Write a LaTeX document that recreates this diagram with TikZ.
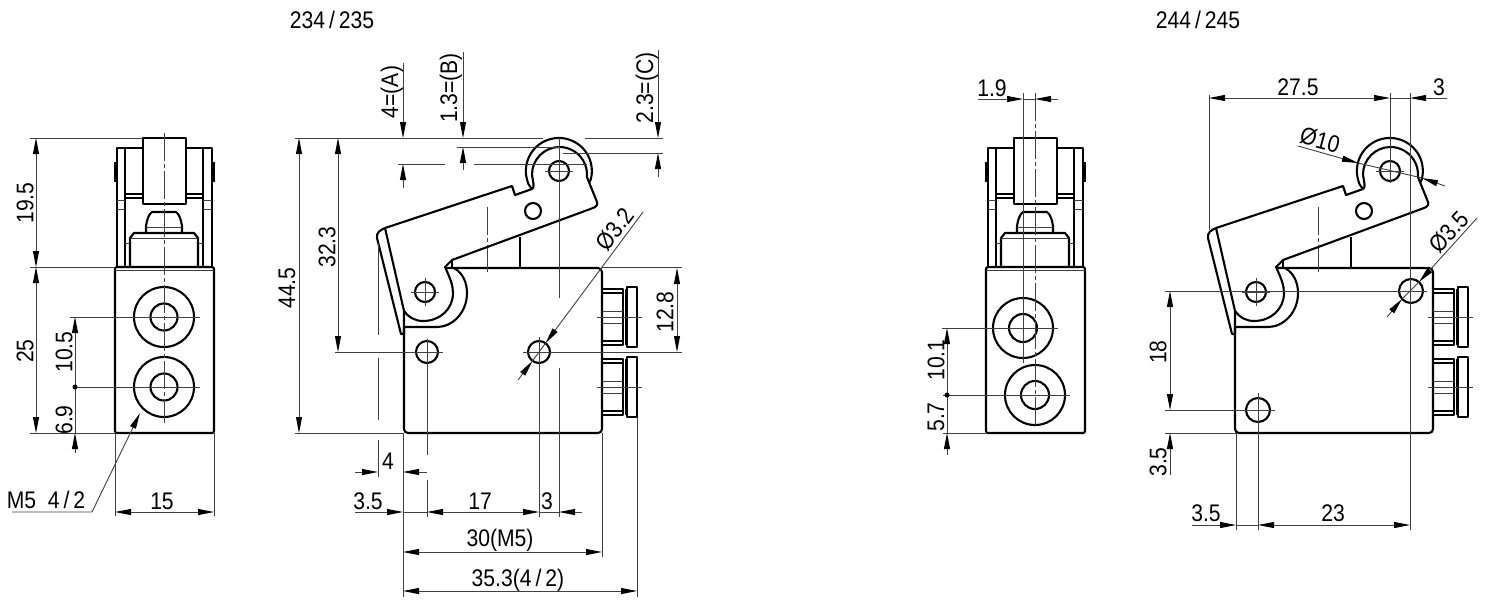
\documentclass[tikz,border=0pt]{standalone}
\usepackage{fontspec}
\setmainfont[FakeStretch=0.88]{Liberation Sans}
\usetikzlibrary{arrows.meta}
\tikzset{
  outline/.style={line width=1.05pt, line join=round},
  thinline/.style={line width=0.45pt, black!75},
  centerline/.style={thinline, dash pattern=on 14pt off 1.5pt on 2pt off 1.5pt},
  dimline/.style={thinline, >={Triangle[length=8pt,width=3pt,black]}},
  dimtext/.style={inner sep=0pt, font=\fontsize{12}{14}\selectfont},
  frontview/.pic={
    % body %
    \draw[outline, rounded corners=1] (115,-267) rectangle (214,-433);
    \draw[thinline] (115,-270) -- (214,-270);
    % arms %
    \draw[outline] (117,-267) -- (117,-148) -- (143,-148);
    \draw[outline] (212,-267) -- (212,-148) -- (186,-148);
    \draw[outline] (125,-267) -- (125,-148);
    \draw[outline] (203,-267) -- (203,-148);
    \draw[outline] (125,-194) -- (143,-194);
    \draw[outline] (125,-198) -- (143,-198);
    \draw[outline] (186,-194) -- (203,-194);
    \draw[outline] (186,-198) -- (203,-198);
    \draw[thinline] (117,-200) -- (125,-200);
    \draw[thinline] (117,-209) -- (125,-209);
    \draw[thinline] (203,-200) -- (212,-200);
    \draw[thinline] (203,-209) -- (212,-209);
    \draw[outline] (115.5,-162) -- (115.5,-182);
    \draw[outline] (213.5,-162) -- (213.5,-182);
    % roller, plunger, stem %
    \draw[outline] (143,-138) rectangle (186,-204);
    \draw[outline] (146,-233) -- (146,-226) .. controls (147,-219) and (149,-214) .. (152,-212) -- (176,-212) .. controls (179,-214) and (181,-219) .. (182,-226) -- (182,-233);
    \draw[thinline] (146,-227) -- (182,-227);
    \draw[outline] (130,-267) -- (130,-238) -- (134,-233) -- (194,-233) -- (198,-238) -- (198,-267);
    \draw[thinline] (130,-238) -- (198,-238);
    \draw[thinline] (125,-243) -- (130,-243);
    \draw[thinline] (198,-243) -- (203,-243);
  },
  sideview/.pic={
    % body %
    \draw[outline, rounded corners=2] (404,-327) -- (404,-433) -- (602,-433) -- (602,-268) -- (445,-268);
    \draw[outline] (520,-237) -- (520,-268);
    \draw[centerline] (487,-207) -- (487,-272);
    % fittings %
    \foreach \fy in {317,387} {
      \draw[outline] (602,-\fy+28) rectangle (623,-\fy-28);
      \draw[outline] (626,-\fy+28) -- (626,-\fy-28);
      \draw[outline] (627,-\fy+30) rectangle (637,-\fy-30);
      \draw[outline] (602,-\fy+24) -- (623,-\fy+24);
      \draw[outline] (602,-\fy-24) -- (623,-\fy-24);
      \draw[thinline] (602,-\fy+6) -- (623,-\fy+6);
      \draw[thinline] (602,-\fy-6) -- (623,-\fy-6);
      \draw[thinline] (597,-\fy) -- (642,-\fy);
    }
    % lever %
    \draw[outline] (532,-189) .. controls (529,-185) and (527,-183) .. (527,-179.5) arc[start angle=195, end angle=-15, radius=33] -- (589,-183);
    \draw[outline] (385,-228) -- (512,-186) -- (515,-195) -- (532,-189) .. controls (535,-188) and (533,-182) .. (532,-174.5) arc[start angle=180, end angle=-5, radius=27.5] -- (597,-202) .. controls (598,-205) and (596,-207) .. (593,-208) -- (452,-260) -- (445,-267) .. controls (450,-278) and (453,-285) .. (453,-293) .. controls (453,-309) and (440,-321) .. (423,-321) .. controls (415,-321) and (408,-317) .. (404,-311);
    \draw[outline] (452,-260) -- (452,-268);
    \draw[outline] (454,-268) .. controls (463,-273) and (467,-283) .. (467,-293) .. controls (467,-313) and (452,-327) .. (437,-327) -- (404,-327);
    \draw[outline] (385,-228) .. controls (380,-230) and (376,-233) .. (377,-238) -- (401,-334) -- (404,-334) -- (404,-311) -- (385,-228);
    \draw[outline] (559,-171) circle (10);
    \draw[outline] (425,-292) circle (10);
    \draw[outline] (533,-211) circle (8);
    \draw[thinline] (545,-171) -- (573,-171);
    \draw[thinline] (411,-292) -- (439,-292);
    \draw[thinline] (425,-278) -- (425,-306);
  },
}
\begin{document}
\begin{tikzpicture}[x=0.5pt, y=0.5pt]
  \useasboundingbox (0,-612) rectangle (1489,0);

  % views %
  \pic at (0,0) {frontview};
  \pic at (871,0) {frontview};
  \pic at (0,0) {sideview};
  \pic at (831,0) {sideview};

  % left front view %
  \foreach \py in {317,387} {
    \draw[outline] (164,-\py) circle (30);
    \draw[outline] (164,-\py) circle (13.5);
  }
  \draw[centerline] (164,-133) -- (164,-423);
  \draw[thinline] (70,-317) -- (200,-317);
  \draw[thinline] (75,-387) -- (200,-387);
  \draw[thinline] (30,-138) -- (143,-138);
  \draw[thinline] (30,-267) -- (115,-267);
  \draw[thinline] (30,-433) -- (115,-433);
  \draw[thinline] (115,-433) -- (115,-516);
  \draw[thinline] (214,-433) -- (214,-516);
  \draw[dimline,<->] (36,-138) -- (36,-267);
  \draw[dimline,<->] (36,-267) -- (36,-433);
  \draw[dimline,->] (75,-387) -- (75,-317);
  \draw[dimline,->] (75,-453) -- (75,-433);
  \draw[thinline] (75,-433) -- (75,-387);
  \fill (75,-387) circle (2.5);
  \draw[dimline,<->] (115,-512) -- (214,-512);
  \draw[dimline,->] (12,-512) -- (92,-512) -- (140,-413);
  \node[dimtext, rotate=90] (a195) at (25,-203) {19.5};
  \node[dimtext, rotate=90] (a25) at (25,-351) {25};
  \node[dimtext, rotate=90] (a105) at (64,-352) {10.5};
  \node[dimtext, rotate=90] (a69) at (64,-420) {6.9};
  \node[dimtext] (a15) at (162,-501) {15};
  \node[dimtext] (am5) at (46,-500) {M5\ \ 4\,/\,2};

  % left side view %
  \node[dimtext] (title1) at (332,-20) {234\,/\,235};
  \draw[outline] (427,-352) circle (11);
  \draw[outline] (539,-352) circle (11);
  \draw[thinline] (295,-138) -- (543,-138);
  \draw[thinline] (585,-138) -- (663,-138);
  \draw[thinline] (457,-147) -- (560,-147);
  \draw[thinline] (563,-153) -- (663,-153);
  \draw[thinline] (398,-164) -- (445,-164);
  \draw[thinline] (474,-164) -- (587,-164);
  \draw[thinline] (559,-138) -- (559,-298);
  \draw[thinline] (295,-433) -- (404,-433);
  \draw[thinline] (602,-267) -- (682,-267);
  \draw[thinline] (335,-352) -- (443,-352);
  \draw[thinline] (523,-352) -- (682,-352);
  \draw[thinline] (378,-243) -- (378,-335);
  \draw[thinline] (378,-358) -- (378,-420);
  \draw[thinline] (378,-440) -- (378,-477);
  \draw[thinline] (427,-339) -- (427,-455);
  \draw[thinline] (427,-480) -- (427,-517);
  \draw[thinline] (539,-337) -- (539,-517);
  \draw[thinline] (559,-368) -- (559,-517);
  \draw[thinline] (403,-433) -- (403,-597);
  \draw[thinline] (602,-433) -- (602,-557);
  \draw[thinline] (637,-417) -- (637,-597);
  \draw[dimline,->] (403,-63) -- (403,-138);
  \draw[dimline,->] (403,-188) -- (403,-164);
  \draw[dimline,->] (463,-52) -- (463,-138);
  \draw[dimline,->] (463,-170) -- (463,-147);
  \draw[dimline,->] (658,-50) -- (658,-138);
  \draw[dimline,->] (658,-177) -- (658,-153);
  \draw[dimline,<->] (299,-138) -- (299,-433);
  \draw[dimline,<->] (338,-138) -- (338,-352);
  \draw[dimline,<->] (677,-268) -- (677,-352);
  \draw[dimline,->] (355,-472) -- (378,-472);
  \draw[dimline,->] (427,-472) -- (403,-472);
  \draw[dimline,->] (355,-512) -- (403,-512);
  \draw[dimline,<->] (427,-512) -- (539,-512);
  \draw[thinline] (403,-512) -- (427,-512);
  \draw[thinline] (539,-512) -- (559,-512);
  \draw[dimline,->] (582,-512) -- (559,-512);
  \draw[dimline,<->] (403,-552) -- (602,-552);
  \draw[dimline,<->] (403,-591) -- (637,-591);
  \draw[dimline,->] (643,-212) -- (545.6,-343);
  \draw[dimline,->] (518,-380) -- (532.4,-361);
  \draw[thinline] (532.4,-361) -- (545.6,-343);
  \node[dimtext, rotate=90] (b4) at (392,-92) {4=(A)};
  \node[dimtext, rotate=90] (b13) at (451,-88) {1.3=(B)};
  \node[dimtext, rotate=90] (b23) at (647,-88) {2.3=(C)};
  \node[dimtext, rotate=90] (b445) at (287,-288) {44.5};
  \node[dimtext, rotate=90] (b323) at (327,-247) {32.3};
  \node[dimtext, rotate=90] (b128) at (665,-312) {12.8};
  \node[dimtext] (bf4) at (388,-461) {4};
  \node[dimtext] (b35) at (368,-501) {3.5};
  \node[dimtext] (b17) at (480,-501) {17};
  \node[dimtext] (b3) at (547,-501) {3};
  \node[dimtext] (b30) at (500,-540) {30(M5)};
  \node[dimtext] (b353) at (518,-580) {35.3(4\,/\,2)};
  \node[dimtext, rotate=53] (bd32) at (615,-229) {Ø3.2};

  % right front view %
  \draw[outline] (1023,-328) circle (30);
  \draw[outline] (1023,-328) circle (14);
  \draw[outline] (1035,-395) circle (30);
  \draw[outline] (1035,-395) circle (14);
  \draw[centerline] (1035,-93) -- (1035,-428);
  \draw[thinline] (1023,-93) -- (1023,-363);
  \draw[thinline] (942,-328) -- (1058,-328);
  \draw[thinline] (943,-395) -- (1070,-395);
  \draw[thinline] (943,-433) -- (986,-433);
  \draw[dimline,->] (978,-99) -- (1023,-99);
  \draw[dimline,->] (1058,-99) -- (1035,-99);
  \draw[thinline] (1023,-99) -- (1035,-99);
  \draw[dimline,->] (947,-395) -- (947,-328);
  \draw[dimline,->] (947,-455) -- (947,-433);
  \draw[thinline] (947,-433) -- (947,-395);
  \fill (947,-395) circle (2.5);
  \node[dimtext] (c19) at (992,-88) {1.9};
  \node[dimtext, rotate=90] (c101) at (936,-360) {10.1};
  \node[dimtext, rotate=90] (c57) at (936,-417) {5.7};

  % right side view %
  \node[dimtext] (title2) at (1198,-20) {244\,/\,245};
  \draw[outline] (1258,-410) circle (12);
  \draw[outline] (1411,-291) circle (12);
  \draw[thinline] (1165,-291) -- (1427,-291);
  \draw[thinline] (1165,-410) -- (1275,-410);
  \draw[thinline] (1165,-433) -- (1236,-433);
  \draw[thinline] (1209,-95) -- (1209,-230);
  \draw[thinline] (1390,-93) -- (1390,-183);
  \draw[thinline] (1410,-93) -- (1410,-530);
  \draw[thinline] (1236,-433) -- (1236,-530);
  \draw[thinline] (1258,-393) -- (1258,-530);
  \draw[dimline,<->] (1209,-98) -- (1390,-98);
  \draw[dimline,->] (1447,-98) -- (1410,-98);
  \draw[thinline] (1390,-98) -- (1410,-98);
  \draw[dimline,->] (1298,-146) -- (1358,-163);
  \draw[dimline,->] (1445,-186) -- (1422,-178);
  \draw[thinline] (1358,-163) -- (1422,-178);
  \draw[dimline,->] (1477,-218) -- (1419,-282);
  \draw[dimline,->] (1387,-317) -- (1402,-299);
  \draw[thinline] (1402,-299) -- (1419,-282);
  \draw[dimline,<->] (1170,-291) -- (1170,-410);
  \draw[dimline,->] (1170,-475) -- (1170,-433);
  \draw[dimline,->] (1192,-525) -- (1236,-525);
  \draw[thinline] (1236,-525) -- (1258,-525);
  \draw[dimline,<->] (1258,-525) -- (1410,-525);
  \node[dimtext] (d275) at (1298,-87) {27.5};
  \node[dimtext] (d3) at (1439,-87) {3};
  \node[dimtext, rotate=-15] (d10) at (1320,-140) {Ø10};
  \node[dimtext, rotate=47] (d35a) at (1449,-232) {Ø3.5};
  \node[dimtext, rotate=90] (d18) at (1158,-352) {18};
  \node[dimtext, rotate=90] (d35b) at (1158,-462) {3.5};
  \node[dimtext] (d35c) at (1206,-513) {3.5};
  \node[dimtext] (d23) at (1333,-513) {23};
\end{tikzpicture}
\end{document}
